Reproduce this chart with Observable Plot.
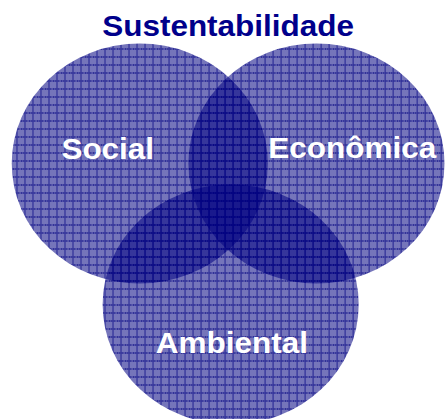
<!DOCTYPE html>
<html><head><meta charset="utf-8">
<script src="https://cdn.jsdelivr.net/npm/d3@7"></script>
<script src="https://cdn.jsdelivr.net/npm/@observablehq/plot@0.6"></script>
<style>html,body{margin:0;padding:0;background:#fff;overflow:hidden}</style>
</head><body><div id="chart"></div>
<script>
// Venn diagram data (units = circle radius)
const title = ["Sustentabilidade"];
const titleX = [0];
const titleY = [1.06];
const sets = ["Social", "Econômica", "Ambiental"];
const centerX = [-0.69, 0.69, 0.02];
const centerY = [0, 0, -1.175];
const radius = [1, 1, 1];
const labelX = [-0.94, 0.97, 0.03];
const labelY = [0.04, 0.05, -1.58];

const circles = sets.map((s, i) => ({set: s, x: centerX[i], y: centerY[i], r: radius[i]}));
const labels = sets.map((s, i) => ({set: s, x: labelX[i], y: labelY[i]}));
const titles = title.map((t, i) => ({text: t, x: titleX[i], y: titleY[i]}));

const W = 446, H = 419;
const stretch = 128 / 120;           // horizontal stretch of the original figure
const PW = Math.round(W / stretch);  // plot width before stretch
const unit = 120;                    // px per radius unit
const originX = 227.5 / stretch, originY = 163;
const font = "'Liberation Sans', Arial, Helvetica, sans-serif";

const svg = Plot.plot({
  width: PW, height: H, margin: 0,
  style: {background: "white"},
  x: {domain: [-originX / unit, (PW - originX) / unit], axis: null},
  y: {domain: [-(H - originY) / unit, originY / unit], axis: null},
  r: {type: "linear", domain: [0, 1], range: [0, unit]},
  marks: [
    Plot.dot(circles, {x: "x", y: "y", r: "r", fill: "#000080"}),
    Plot.text(labels, {x: "x", y: "y", text: "set", fill: "white", fontSize: 29.5, fontWeight: "bold", fontFamily: font, lineAnchor: "bottom"}),
    Plot.text(titles, {x: "x", y: "y", text: "text", fill: "#00008b", fontSize: 29.5, fontWeight: "bold", fontFamily: font, lineAnchor: "bottom"})
  ]
});

// grid/dither fill pattern like the original hatched shapes
const defs = d3.select(svg).insert("defs", ":first-child");
const pat = defs.append("pattern").attr("id", "venn-grid")
  .attr("patternUnits", "userSpaceOnUse")
  .attr("x", 0).attr("y", 0)
  .attr("width", 8 / stretch).attr("height", 8);
for (let i = 0; i < 8; i++) {
  for (let j = 0; j < 8; j++) {
    const op = (i === 0 || j === 0) ? 0.92 : ((i + j) % 2 === 0 ? 0.38 : 0.7);
    pat.append("rect")
      .attr("x", i / stretch).attr("y", j)
      .attr("width", 1 / stretch).attr("height", 1)
      .attr("fill", "#000080").attr("fill-opacity", op)
      .attr("shape-rendering", "crispEdges");
  }
}
d3.select(svg).selectAll("circle").attr("fill", "url(#venn-grid)");

svg.setAttribute("width", W);
svg.setAttribute("height", H);
svg.setAttribute("viewBox", `0 0 ${PW} ${H}`);
svg.setAttribute("preserveAspectRatio", "none");
svg.style.maxWidth = "none";
svg.style.width = W + "px";
svg.style.height = H + "px";
document.getElementById("chart").appendChild(svg);
</script>
</body></html>
